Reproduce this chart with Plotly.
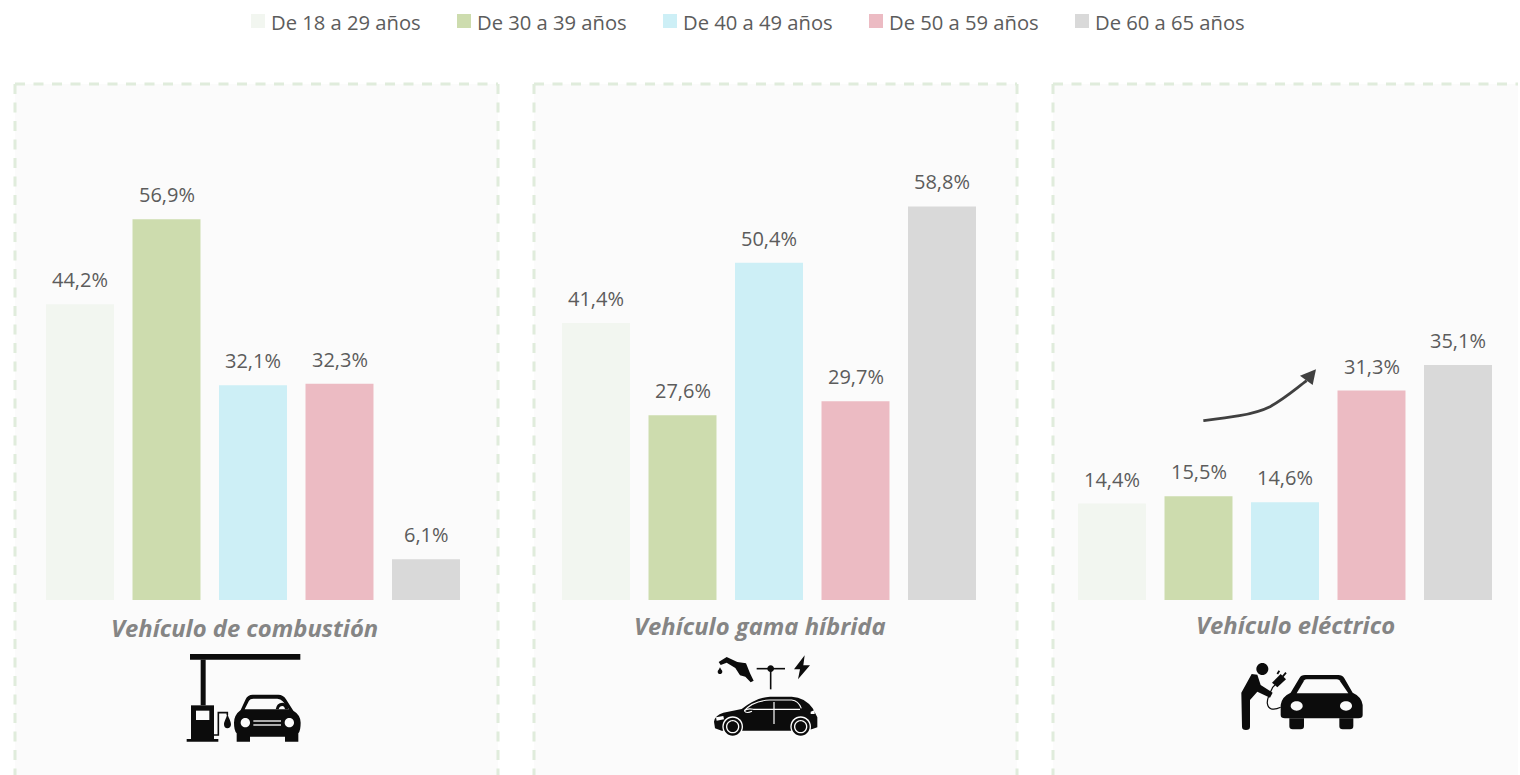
import re
import plotly.graph_objects as go

age_groups = ["De 18 a 29 años", "De 30 a 39 años", "De 40 a 49 años", "De 50 a 59 años", "De 60 a 65 años"]
colors = ["#f2f6f0", "#cddcae", "#cdeff6", "#ecbbc3", "#d9d9d9"]
combustion = [44.2, 56.9, 32.1, 32.3, 6.1]
hybrid = [41.4, 27.6, 50.4, 29.7, 58.8]
electric = [14.4, 15.5, 14.6, 31.3, 35.1]
panel_titles = ["Vehículo de combustión", "Vehículo gama híbrida", "Vehículo eléctrico"]

W, H = 1520, 775
FONT = "Open Sans"
TXT = "#5c5c5c"

fig = go.Figure()
layout_axes = {}
# first subplot = pixel-space canvas for decoration, so its below-layer shapes stay under the bars
layout_axes["xaxis"] = dict(domain=[0, 1], range=[0, W], visible=False, anchor="y", fixedrange=True)
layout_axes["yaxis"] = dict(domain=[0, 1], range=[H, 0], visible=False, anchor="x", fixedrange=True)
fig.add_trace(go.Scatter(x=[0], y=[0], mode="markers", marker=dict(opacity=0), showlegend=False, hoverinfo="skip"))

panels = [
    (combustion, 36.75, 628, 244, 15, 498),
    (hybrid, 552.75, 626, 760, 534, 1017),
    (electric, 1068.75, 625, 1295, 1053, 1518),
]
shapes, annotations = [], []
for i, (vals, left, ty, tx, p0, p1) in enumerate(panels, start=2):
    xn, yn = f"x{i}", f"y{i}"
    fig.add_trace(go.Bar(x=age_groups, y=vals, xaxis=xn, yaxis=yn, marker=dict(color=colors, line_width=0),
                         width=0.786, showlegend=False, hovertemplate="%{x}: %{y:.1f}%<extra></extra>"))
    layout_axes[f"xaxis{i}"] = dict(domain=[left / W, (left + 432.5) / W], visible=False, type="category",
                                    range=[-0.5, 4.5], anchor=yn, fixedrange=True)
    layout_axes[f"yaxis{i}"] = dict(domain=[1 - 600 / H, 1 - 100 / H], visible=False, range=[0, 74.7],
                                    anchor=xn, fixedrange=True)
    for a, v in zip(age_groups, vals):
        annotations.append(dict(x=a, y=v, xref=xn, yref=yn, text=f"{v:.1f}%".replace(".", ","), showarrow=False,
                                yanchor="bottom", yshift=9, font=dict(family=FONT, size=20, color=TXT)))
    annotations.append(dict(x=tx, y=ty, xref="x", yref="y", text=f"<b><i>{panel_titles[i-2]}</i></b>",
                            showarrow=False, font=dict(family=FONT, size=23.8, color="#858585")))
    shapes.append(dict(type="rect", xref="x", yref="y", x0=p0, x1=p1, y0=84, y1=775, layer="below",
                       fillcolor="#fbfbfb", line_width=0))
    dash = dict(color="#e0ecdc", width=3, dash="10px,8.5px")
    shapes.append(dict(type="line", xref="x", yref="y", x0=p0, x1=p1, y0=84, y1=84, line=dash, layer="below"))
    shapes.append(dict(type="line", xref="x", yref="y", x0=p0, x1=p0, y0=84, y1=775, line=dash, layer="below"))
    if i < 4:
        shapes.append(dict(type="line", xref="x", yref="y", x0=p1, x1=p1, y0=84, y1=775, line=dash, layer="below"))

# legend
for k, (name, col) in enumerate(zip(age_groups, colors)):
    x0 = 251 + 206 * k
    shapes.append(dict(type="rect", xref="x", yref="y", x0=x0, x1=x0 + 14, y0=14, y1=28, fillcolor=col, line_width=0))
    annotations.append(dict(x=x0 + 18, y=21.5, xref="x", yref="y", text=name, showarrow=False, xanchor="left",
                            font=dict(family=FONT, size=20.2, color=TXT)))


def tf(path, ox, oy, s=1 / 3):
    nums = iter(range(10**6))
    def rep(m):
        v = float(m.group(0))
        return f"{(ox + v * s) if next(nums) % 2 == 0 else (oy + v * s):.2f}"
    return re.sub(r"-?\d+\.?\d*", rep, path)


def circ(cx, cy, rx, ry=None):
    ry = rx if ry is None else ry
    k = 0.5523
    return (f"M{cx-rx},{cy} C{cx-rx},{cy-k*ry} {cx-k*rx},{cy-ry} {cx},{cy-ry} "
            f"C{cx+k*rx},{cy-ry} {cx+rx},{cy-k*ry} {cx+rx},{cy} "
            f"C{cx+rx},{cy+k*ry} {cx+k*rx},{cy+ry} {cx},{cy+ry} "
            f"C{cx-k*rx},{cy+ry} {cx-rx},{cy+k*ry} {cx-rx},{cy} Z")


def add(path, ox, oy, fill="#000000", stroke=None, w=0):
    shapes.append(dict(type="path", xref="x", yref="y", path=tf(path, ox, oy),
                       line=dict(width=w, color=stroke or "rgba(0,0,0,0)"),
                       fillcolor=fill if fill else "rgba(0,0,0,0)"))


BK = "#0c0c0c"
BG = "#fbfbfb"
# --- gas station (coordinates in 3x crop space)
o = (150, 600)
add("M120,162 L451,162 L451,179 L120,179 Z", *o, BK)
add("M152,179 L167,179 L167,316 L152,316 Z", *o, BK)
add("M123,316 L192,316 L192,417 L123,417 Z", *o, BK)
add("M138,332 L178,332 L178,360 L138,360 Z", *o, BG)
add("M110,417 L205,417 L205,425 L110,425 Z", *o, BK)
add("M192,405 L205,405 L205,338 L232,338 L232,346", *o, None, BK, 1.6)
add("M232,342 C238,358 243,364 243,373 C243,381 238,385 232,385 C226,385 222,381 222,373 C222,364 228,358 232,342 Z", *o, BK)
add("M272,330 L287,298 Q293,284 308,284 L385,284 Q400,284 408,298 L430,332 Q452,345 452,368 Q452,392 445,400 "
    "L445,425 L405,425 L405,410 L300,410 L300,425 L260,425 L260,400 Q252,392 252,368 Q252,345 272,330 Z", *o, BK)
add("M284,328 L297,302 Q300,296 310,296 L382,296 Q392,296 398,304 L417,328 Z", *o, BG)
add("M377,328 Q380,308 397,308 Q412,308 416,328 L405,328 Q403,318 397,318 Q389,318 386,328 Z", *o, BK)
add(circ(286, 368, 14), *o, BG)
add(circ(418, 368, 14), *o, BG)
add("M310,361 L393,361 L393,365 L310,365 Z", *o, BG)
add("M310,373 L393,373 L393,377 L310,377 Z", *o, BG)

# --- hybrid icons
o = (660, 640)
add("M176,66 L200,51 L232,66 L258,70 L270,100 L281,122 L272,127 L256,110 L240,106 L226,84 L200,68 L182,75 Z", *o, BK)
add("M180,82 C184,90 187,92 187,95 C187,100 183,102 180,102 C176,102 173,99 173,95 C173,91 177,90 180,82 Z", *o, BK)
add("M290,86 L375,86", *o, None, BK, 1.6)
add("M332,86 L332,148", *o, None, BK, 1.6)
add(circ(332, 86, 10), *o, BK)
add("M434,46 L402,88 L420,88 L414,118 L450,76 L430,76 Z", *o, BK)
add("M162,245 Q165,225 190,218 L245,207 Q290,172 330,170 L395,170 Q435,172 458,205 L472,232 L472,262 L455,268 "
    "L390,272 L250,272 L185,272 L165,265 Z", *o, BK)
add("M253,212 Q280,182 330,180 L395,180 Q415,182 424,205", *o, None, "#ffffff", 1.1)
add("M253,212 Q262,204 280,208 L420,208", *o, None, "#ffffff", 1.1)
add("M253,212 Q258,222 276,214", *o, None, "#ffffff", 1.1)
add("M342,186 L342,252", *o, None, "#ffffff", 1.2)
add("M168,232 L190,228 L192,238 L170,242 Z", *o, "#ffffff")
add("M452,215 L464,210 L464,222 L452,222 Z", *o, "#ffffff")
for cx in (218, 422):
    add(circ(cx, 260, 31), *o, "#ffffff")
    add(circ(cx, 260, 27), *o, BK)
    add(circ(cx, 260, 20), *o, "#ffffff")
    add(circ(cx, 260, 16), *o, BK)

# --- electric icons
o = (1220, 650)
add(circ(127, 57, 18), *o, BK)
add("M64,128 L95,72 L112,74 L122,105 L158,128 L150,143 L112,125 L90,150 L90,230 Q90,240 78,240 Q66,240 66,230 Z", *o, BK)
add("M156,98 L182,72 L198,88 L172,112 Z", *o, BK)
add("M172,72 L178,62 M188,80 L198,68", *o, None, BK, 1.8)
add("M165,105 L158,112 C150,130 140,145 142,160 C145,182 165,180 182,172", *o, None, BK, 1.2)
add("M182,165 Q185,140 212,128 L238,85 Q243,75 255,75 L355,75 Q367,75 373,85 L398,128 Q425,140 428,165 L428,195 "
    "Q428,205 415,205 L195,205 Q182,205 182,195 Z", *o, BK)
add("M230,130 L253,91 Q255,88 260,88 L350,88 Q355,88 358,91 L385,130 Z", *o, BG)
add(circ(230, 168, 18, 14), *o, BG)
add(circ(378, 168, 18, 14), *o, BG)
add("M208,205 L252,205 L252,228 Q252,238 242,238 L218,238 Q208,238 208,228 Z", *o, BK)
add("M358,205 L400,205 L400,228 Q400,238 390,238 L368,238 Q358,238 358,228 Z", *o, BK)

# --- trend arrow
o = (1190, 350)
add("M40,212 C110,204 190,195 240,170 C285,145 315,118 350,92", *o, None, "#404040", 2.8)
add("M378,58 L330,77 L368,105 Z", *o, "#404040")

fig.update_layout(width=W, height=H, margin=dict(l=0, r=0, t=0, b=0), paper_bgcolor="#ffffff", plot_bgcolor="rgba(0,0,0,0)",
                  shapes=shapes, annotations=annotations, barmode="group", showlegend=False,
                  font=dict(family=FONT, color=TXT), **layout_axes)
fig.write_html("out.html", config=dict(displayModeBar=False),
               post_script="document.body.style.margin='0';document.body.style.overflow='hidden';")
